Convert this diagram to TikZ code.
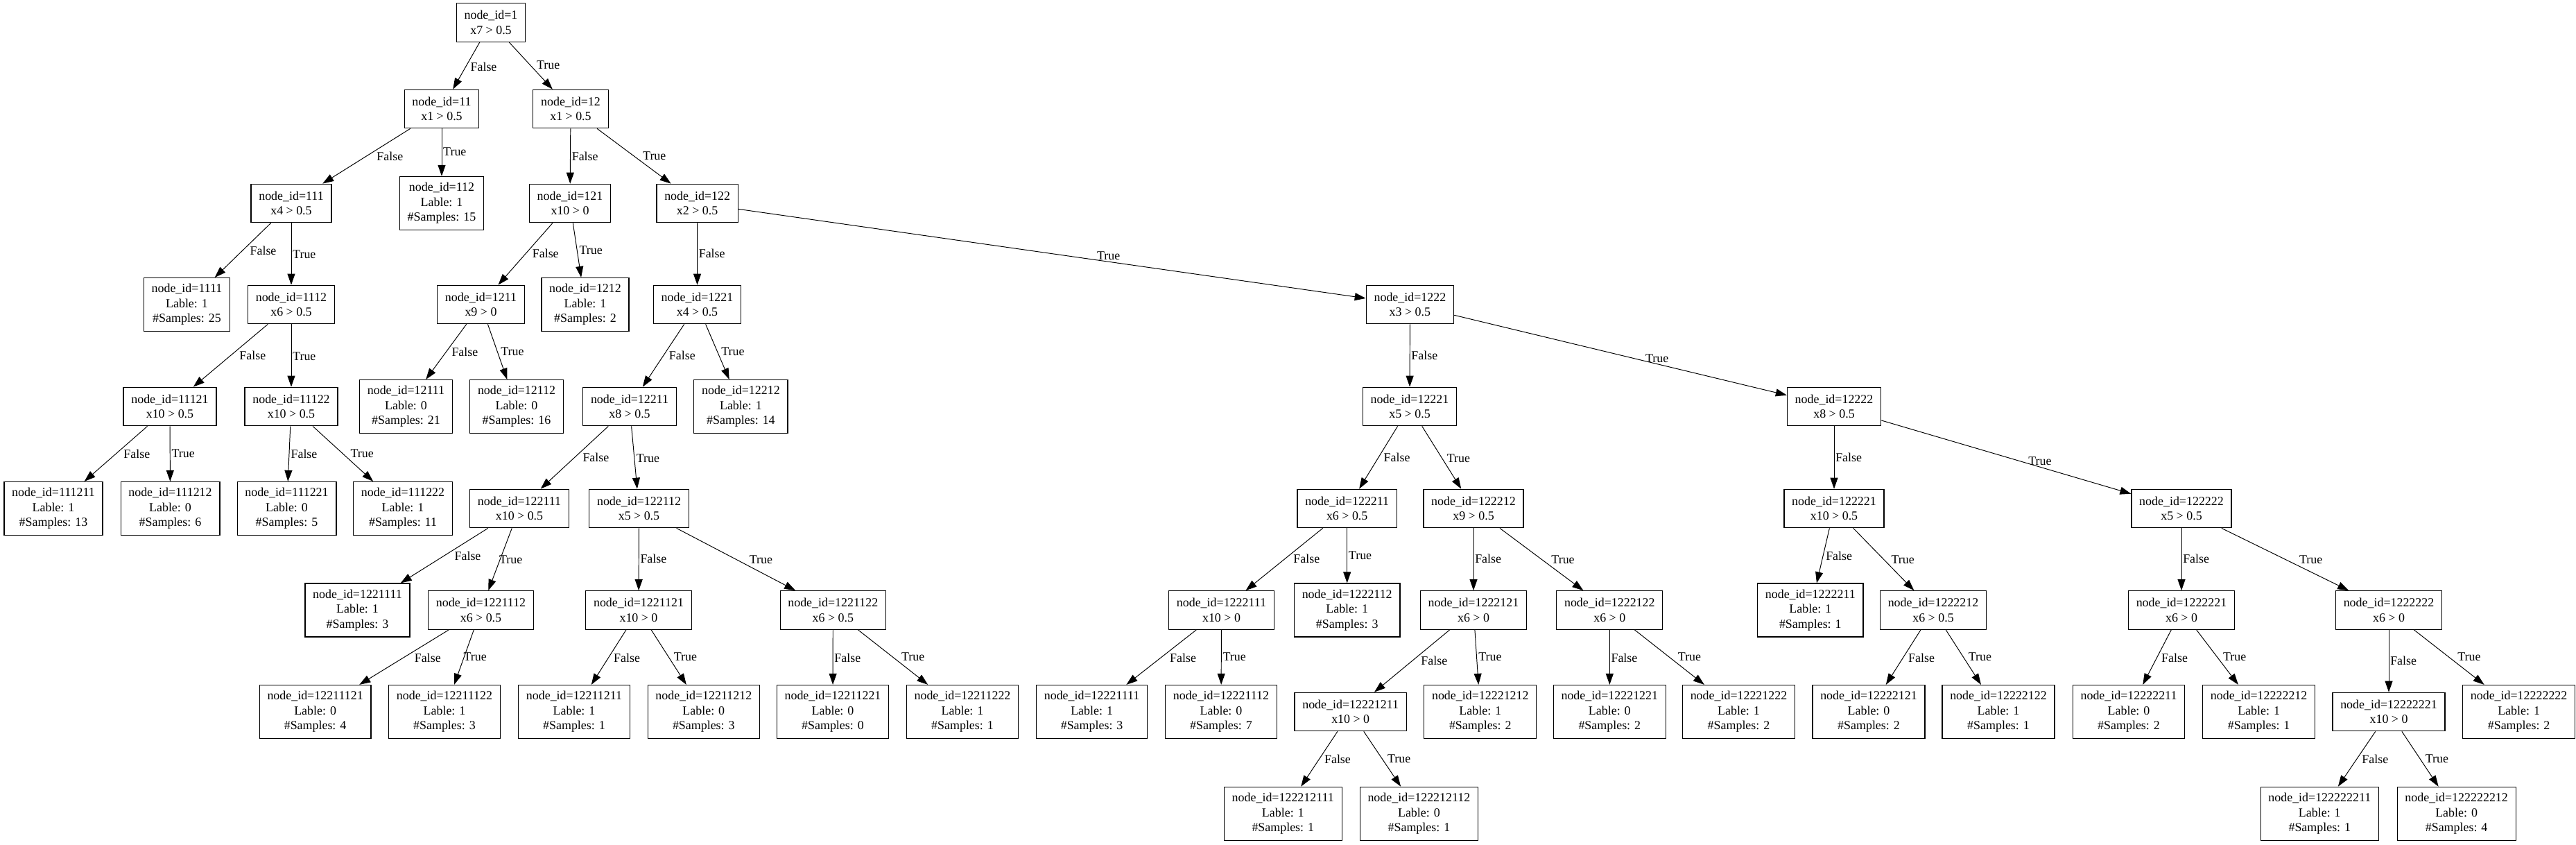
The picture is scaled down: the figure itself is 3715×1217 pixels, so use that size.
\documentclass[tikz,border=0pt]{standalone}
\usepackage{fontspec}
\setmainfont{Liberation Serif}
\usetikzlibrary{arrows.meta}

\begin{document}
\begin{tikzpicture}[x=0.02cm, y=-0.02cm,
    every node/.style={font=\fontsize{10.2pt}{12.2pt}\selectfont},
    testbox/.style={draw, line width=0.7pt, align=center, inner xsep=6.4pt, inner ysep=1pt, minimum height=1.11cm},
    leafbox/.style={draw, line width=0.7pt, align=center, inner xsep=6.4pt, inner ysep=1pt, minimum height=1.54cm},
    branch/.style={line width=0.55pt, -{Triangle[length=0.32cm, width=0.22cm]}},
    falselab/.style={pos=0.4, anchor=north west, inner sep=1pt},
    truelab/.style={pos=0.6, anchor=south west, inner sep=1pt}]
    \useasboundingbox (0,0) rectangle (3715,1217);

    % Root
    \node[testbox] (n1) at (708,32.5) {node\_id=1\\x7 > 0.5};

    % Level 1
    \node[testbox] (n11) at (637,157) {node\_id=11\\x1 > 0.5};
    \node[testbox] (n12) at (823,157) {node\_id=12\\x1 > 0.5};

    % Level 2
    \node[testbox] (n111) at (420,293) {node\_id=111\\x4 > 0.5};
    \node[leafbox] (n112) at (637,293) {node\_id=112\\Lable: 1\\\#Samples: 15};
    \node[testbox] (n121) at (822,293) {node\_id=121\\x10 > 0};
    \node[testbox] (n122) at (1005.6,293) {node\_id=122\\x2 > 0.5};

    % Level 3
    \node[leafbox] (n1111) at (269.5,439) {node\_id=1111\\Lable: 1\\\#Samples: 25};
    \node[testbox] (n1112) at (420,439) {node\_id=1112\\x6 > 0.5};
    \node[testbox] (n1211) at (693.5,439) {node\_id=1211\\x9 > 0};
    \node[leafbox] (n1212) at (844,439) {node\_id=1212\\Lable: 1\\\#Samples: 2};
    \node[testbox] (n1221) at (1005.5,439) {node\_id=1221\\x4 > 0.5};
    \node[testbox] (n1222) at (2033.4,439) {node\_id=1222\\x3 > 0.5};

    % Level 4
    \node[testbox] (n11121) at (245,586) {node\_id=11121\\x10 > 0.5};
    \node[testbox] (n11122) at (420,586) {node\_id=11122\\x10 > 0.5};
    \node[leafbox] (n12111) at (585.5,586) {node\_id=12111\\Lable: 0\\\#Samples: 21};
    \node[leafbox] (n12112) at (745,586) {node\_id=12112\\Lable: 0\\\#Samples: 16};
    \node[testbox] (n12211) at (908,586) {node\_id=12211\\x8 > 0.5};
    \node[leafbox] (n12212) at (1068.4,586) {node\_id=12212\\Lable: 1\\\#Samples: 14};
    \node[testbox] (n12221) at (2033,586) {node\_id=12221\\x5 > 0.5};
    \node[testbox] (n12222) at (2645,586) {node\_id=12222\\x8 > 0.5};

    % Level 5
    \node[leafbox] (n111211) at (77,733) {node\_id=111211\\Lable: 1\\\#Samples: 13};
    \node[leafbox] (n111212) at (245.5,733) {node\_id=111212\\Lable: 0\\\#Samples: 6};
    \node[leafbox] (n111221) at (413.5,733) {node\_id=111221\\Lable: 0\\\#Samples: 5};
    \node[leafbox] (n111222) at (581,733) {node\_id=111222\\Lable: 1\\\#Samples: 11};
    \node[testbox] (n122111) at (749,733) {node\_id=122111\\x10 > 0.5};
    \node[testbox] (n122112) at (921.5,733) {node\_id=122112\\x5 > 0.5};
    \node[testbox] (n122211) at (1942.7,733) {node\_id=122211\\x6 > 0.5};
    \node[testbox] (n122212) at (2125,733) {node\_id=122212\\x9 > 0.5};
    \node[testbox] (n122221) at (2645,733) {node\_id=122221\\x10 > 0.5};
    \node[testbox] (n122222) at (3146,733) {node\_id=122222\\x5 > 0.5};

    % Level 6
    \node[leafbox] (n1221111) at (515.5,879.5) {node\_id=1221111\\Lable: 1\\\#Samples: 3};
    \node[testbox] (n1221112) at (693.5,879.5) {node\_id=1221112\\x6 > 0.5};
    \node[testbox] (n1221121) at (921,879.5) {node\_id=1221121\\x10 > 0};
    \node[testbox] (n1221122) at (1201.3,879.5) {node\_id=1221122\\x6 > 0.5};
    \node[testbox] (n1222111) at (1761.5,879.5) {node\_id=1222111\\x10 > 0};
    \node[leafbox] (n1222112) at (1942.7,879.5) {node\_id=1222112\\Lable: 1\\\#Samples: 3};
    \node[testbox] (n1222121) at (2125,879.5) {node\_id=1222121\\x6 > 0};
    \node[testbox] (n1222122) at (2321.3,879.5) {node\_id=1222122\\x6 > 0};
    \node[leafbox] (n1222211) at (2610.8,879.5) {node\_id=1222211\\Lable: 1\\\#Samples: 1};
    \node[testbox] (n1222212) at (2788,879.5) {node\_id=1222212\\x6 > 0.5};
    \node[testbox] (n1222221) at (3146,879.5) {node\_id=1222221\\x6 > 0};
    \node[testbox] (n1222222) at (3445,879.5) {node\_id=1222222\\x6 > 0};

    % Level 7
    \node[leafbox] (n12211121) at (454.6,1026) {node\_id=12211121\\Lable: 0\\\#Samples: 4};
    \node[leafbox] (n12211122) at (641,1026) {node\_id=12211122\\Lable: 1\\\#Samples: 3};
    \node[leafbox] (n12211211) at (828,1026) {node\_id=12211211\\Lable: 1\\\#Samples: 1};
    \node[leafbox] (n12211212) at (1014.8,1026) {node\_id=12211212\\Lable: 0\\\#Samples: 3};
    \node[leafbox] (n12211221) at (1201,1026) {node\_id=12211221\\Lable: 0\\\#Samples: 0};
    \node[leafbox] (n12211222) at (1388,1026) {node\_id=12211222\\Lable: 1\\\#Samples: 1};
    \node[leafbox] (n12221111) at (1574.6,1026) {node\_id=12221111\\Lable: 1\\\#Samples: 3};
    \node[leafbox] (n12221112) at (1761,1026) {node\_id=12221112\\Lable: 0\\\#Samples: 7};
    \node[testbox] (n12221211) at (1947.7,1026) {node\_id=12221211\\x10 > 0};
    \node[leafbox] (n12221212) at (2134.8,1026) {node\_id=12221212\\Lable: 1\\\#Samples: 2};
    \node[leafbox] (n12221221) at (2321.3,1026) {node\_id=12221221\\Lable: 0\\\#Samples: 2};
    \node[leafbox] (n12221222) at (2507.5,1026) {node\_id=12221222\\Lable: 1\\\#Samples: 2};
    \node[leafbox] (n12222121) at (2695,1026) {node\_id=12222121\\Lable: 0\\\#Samples: 2};
    \node[leafbox] (n12222122) at (2882,1026) {node\_id=12222122\\Lable: 1\\\#Samples: 1};
    \node[leafbox] (n12222211) at (3070,1026) {node\_id=12222211\\Lable: 0\\\#Samples: 2};
    \node[leafbox] (n12222212) at (3257.6,1026) {node\_id=12222212\\Lable: 1\\\#Samples: 1};
    \node[testbox] (n12222221) at (3445,1026) {node\_id=12222221\\x10 > 0};
    \node[leafbox] (n12222222) at (3632.6,1026) {node\_id=12222222\\Lable: 1\\\#Samples: 2};

    % Level 8
    \node[leafbox] (n122212111) at (1850.3,1172.8) {node\_id=122212111\\Lable: 1\\\#Samples: 1};
    \node[leafbox] (n122212112) at (2046.4,1172.8) {node\_id=122212112\\Lable: 0\\\#Samples: 1};
    \node[leafbox] (n122222211) at (3345.3,1172.8) {node\_id=122222211\\Lable: 1\\\#Samples: 1};
    \node[leafbox] (n122222212) at (3542.6,1172.8) {node\_id=122222212\\Lable: 0\\\#Samples: 4};

    % Branches
    \draw[branch] (n1) -- node[falselab] {False} (n11);
    \draw[branch] (n1) -- node[truelab] {True} (n12);
    \draw[branch] (n11) -- node[falselab] {False} (n111);
    \draw[branch] (n11) -- node[truelab] {True} (n112);
    \draw[branch] (n12) -- node[falselab] {False} (n121);
    \draw[branch] (n12) -- node[truelab] {True} (n122);
    \draw[branch] (n111) -- node[falselab] {False} (n1111);
    \draw[branch] (n111) -- node[truelab] {True} (n1112);
    \draw[branch] (n121) -- node[falselab] {False} (n1211);
    \draw[branch] (n121) -- node[truelab] {True} (n1212);
    \draw[branch] (n122) -- node[falselab] {False} (n1221);
    \draw[branch] (n122) -- node[pos=0.59, above, inner sep=1pt] {True} (n1222);
    \draw[branch] (n1112) -- node[falselab] {False} (n11121);
    \draw[branch] (n1112) -- node[truelab] {True} (n11122);
    \draw[branch] (n1211) -- node[falselab] {False} (n12111);
    \draw[branch] (n1211) -- node[truelab] {True} (n12112);
    \draw[branch] (n1221) -- node[falselab] {False} (n12211);
    \draw[branch] (n1221) -- node[truelab] {True} (n12212);
    \draw[branch] (n1222) -- node[falselab] {False} (n12221);
    \draw[branch] (n1222) -- node[pos=0.61, above, inner sep=1pt] {True} (n12222);
    \draw[branch] (n11121) -- node[falselab] {False} (n111211);
    \draw[branch] (n11121) -- node[truelab] {True} (n111212);
    \draw[branch] (n11122) -- node[falselab] {False} (n111221);
    \draw[branch] (n11122) -- node[truelab] {True} (n111222);
    \draw[branch] (n12211) -- node[falselab] {False} (n122111);
    \draw[branch] (n12211) -- node[truelab] {True} (n122112);
    \draw[branch] (n12221) -- node[falselab] {False} (n122211);
    \draw[branch] (n12221) -- node[truelab] {True} (n122212);
    \draw[branch] (n12222) -- node[falselab] {False} (n122221);
    \draw[branch] (n12222) -- node[pos=0.635, above, inner sep=1pt] {True} (n122222);
    \draw[branch] (n122111) -- node[falselab] {False} (n1221111);
    \draw[branch] (n122111) -- node[truelab] {True} (n1221112);
    \draw[branch] (n122112) -- node[falselab] {False} (n1221121);
    \draw[branch] (n122112) -- node[truelab] {True} (n1221122);
    \draw[branch] (n122211) -- node[falselab] {False} (n1222111);
    \draw[branch] (n122211) -- node[truelab] {True} (n1222112);
    \draw[branch] (n122212) -- node[falselab] {False} (n1222121);
    \draw[branch] (n122212) -- node[truelab] {True} (n1222122);
    \draw[branch] (n122221) -- node[falselab] {False} (n1222211);
    \draw[branch] (n122221) -- node[truelab] {True} (n1222212);
    \draw[branch] (n122222) -- node[falselab] {False} (n1222221);
    \draw[branch] (n122222) -- node[truelab] {True} (n1222222);
    \draw[branch] (n1221112) -- node[falselab] {False} (n12211121);
    \draw[branch] (n1221112) -- node[truelab] {True} (n12211122);
    \draw[branch] (n1221121) -- node[falselab] {False} (n12211211);
    \draw[branch] (n1221121) -- node[truelab] {True} (n12211212);
    \draw[branch] (n1221122) -- node[falselab] {False} (n12211221);
    \draw[branch] (n1221122) -- node[truelab] {True} (n12211222);
    \draw[branch] (n1222111) -- node[falselab] {False} (n12221111);
    \draw[branch] (n1222111) -- node[truelab] {True} (n12221112);
    \draw[branch] (n1222121) -- node[falselab] {False} (n12221211);
    \draw[branch] (n1222121) -- node[truelab] {True} (n12221212);
    \draw[branch] (n1222122) -- node[falselab] {False} (n12221221);
    \draw[branch] (n1222122) -- node[truelab] {True} (n12221222);
    \draw[branch] (n1222212) -- node[falselab] {False} (n12222121);
    \draw[branch] (n1222212) -- node[truelab] {True} (n12222122);
    \draw[branch] (n1222221) -- node[falselab] {False} (n12222211);
    \draw[branch] (n1222221) -- node[truelab] {True} (n12222212);
    \draw[branch] (n1222222) -- node[falselab] {False} (n12222221);
    \draw[branch] (n1222222) -- node[truelab] {True} (n12222222);
    \draw[branch] (n12221211) -- node[falselab] {False} (n122212111);
    \draw[branch] (n12221211) -- node[truelab] {True} (n122212112);
    \draw[branch] (n12222221) -- node[falselab] {False} (n122222211);
    \draw[branch] (n12222221) -- node[truelab] {True} (n122222212);
\end{tikzpicture}
\end{document}
